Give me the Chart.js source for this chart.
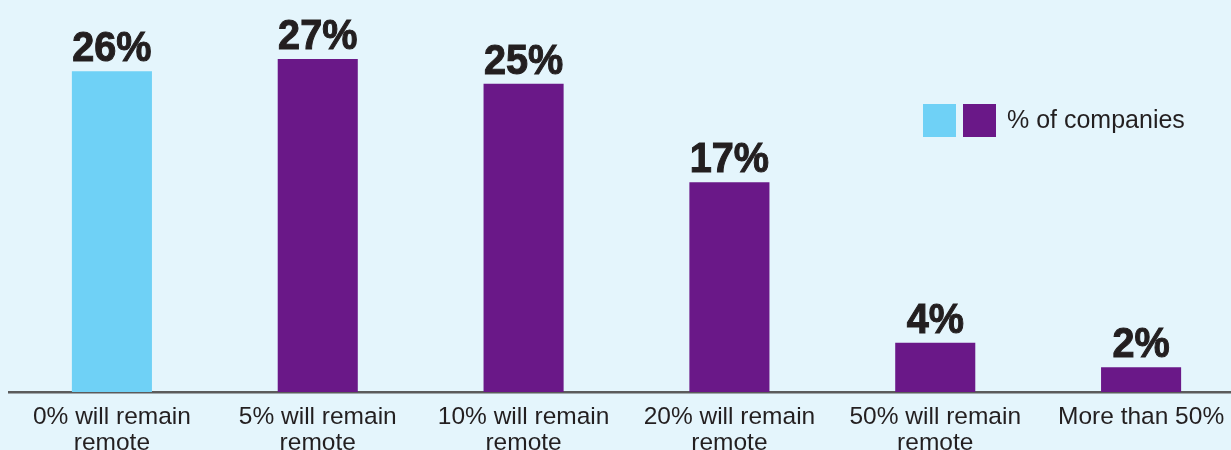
<!DOCTYPE html>
<html>
<head>
<meta charset="utf-8">
<title>Share of staff that will remain remote</title>
<script src="https://cdn.jsdelivr.net/npm/chart.js@4/dist/chart.umd.min.js"></script>
<style>
  html, body { margin: 0; padding: 0; background: #E4F5FC; overflow: hidden; }
  #wrap { width: 1250px; height: 450px; }
</style>
</head>
<body>
<div id="wrap"><canvas id="chart" width="1250" height="450"></canvas></div>
<script>
// Categories (multi-line tick labels) and values
const categories = [
  ['0% will remain', 'remote'],
  ['5% will remain', 'remote'],
  ['10% will remain', 'remote'],
  ['20% will remain', 'remote'],
  ['50% will remain', 'remote'],
  'More than 50%'
];
const companyShare = [26, 27, 25, 17, 4, 2];
const seriesLabel = '% of companies';

const CYAN = '#6FD1F6';
const PURPLE = '#6A1888';
const INK = '#231F20';
const barColors = companyShare.map((v, i) => i === 0 ? CYAN : PURPLE);

// Heavy value labels above each bar
const valueLabels = {
  id: 'valueLabels',
  afterDatasetsDraw(chart) {
    const { ctx } = chart;
    const meta = chart.getDatasetMeta(0);
    ctx.save();
    ctx.fillStyle = INK;
    ctx.strokeStyle = INK;
    ctx.lineWidth = 1;
    ctx.font = 'bold 40px "Liberation Sans", Arial, sans-serif';
    ctx.textAlign = 'center';
    ctx.textBaseline = 'alphabetic';
    meta.data.forEach((bar, i) => {
      const txt = chart.data.datasets[0].data[i] + '%';
      ctx.save();
      ctx.translate(bar.x, bar.y - 10);
      ctx.scale(0.99, 1.05);
      ctx.fillText(txt, 0, 0);
      ctx.strokeText(txt, 0, 0);
      ctx.restore();
    });
    ctx.restore();
  }
};

// Legend: one swatch per bar colour followed by the series label
const swatchLegend = {
  id: 'swatchLegend',
  afterDraw(chart) {
    const { ctx } = chart;
    const ds = chart.data.datasets[0];
    const swatches = [...new Set(ds.backgroundColor)];
    ctx.save();
    let x = 923;
    const y = 104, size = 33, gap = 7;
    swatches.forEach(c => {
      ctx.fillStyle = c;
      ctx.fillRect(x, y, size, size);
      x += size + gap;
    });
    ctx.fillStyle = INK;
    ctx.font = '25px "Liberation Sans", Arial, sans-serif';
    ctx.textAlign = 'left';
    ctx.textBaseline = 'middle';
    ctx.fillText(ds.label, x + 4, y + size / 2 + 1);
    ctx.restore();
  }
};

new Chart(document.getElementById('chart'), {
  type: 'bar',
  data: {
    labels: categories,
    datasets: [{
      label: seriesLabel,
      data: companyShare,
      backgroundColor: barColors,
      borderWidth: 0,
      categoryPercentage: 1,
      barPercentage: 0.389
    }]
  },
  options: {
    responsive: false,
    animation: false,
    devicePixelRatio: 1,
    layout: { padding: { left: 9, right: 6, top: 22, bottom: 0 } },
    plugins: {
      legend: { display: false },
      tooltip: { enabled: false }
    },
    scales: {
      x: {
        grid: { display: false, drawTicks: false },
        border: { display: true, color: '#5B5B5B', width: 2.5 },
        ticks: {
          color: INK,
          padding: 13,
          maxRotation: 0,
          autoSkip: false,
          font: { family: '"Liberation Sans", Arial, sans-serif', size: 24.5, lineHeight: 1.03 }
        },
        afterFit(scale) { scale.height = 58; }
      },
      y: {
        display: false,
        min: 0,
        max: 30
      }
    }
  },
  plugins: [valueLabels, swatchLegend]
});
</script>
</body>
</html>
